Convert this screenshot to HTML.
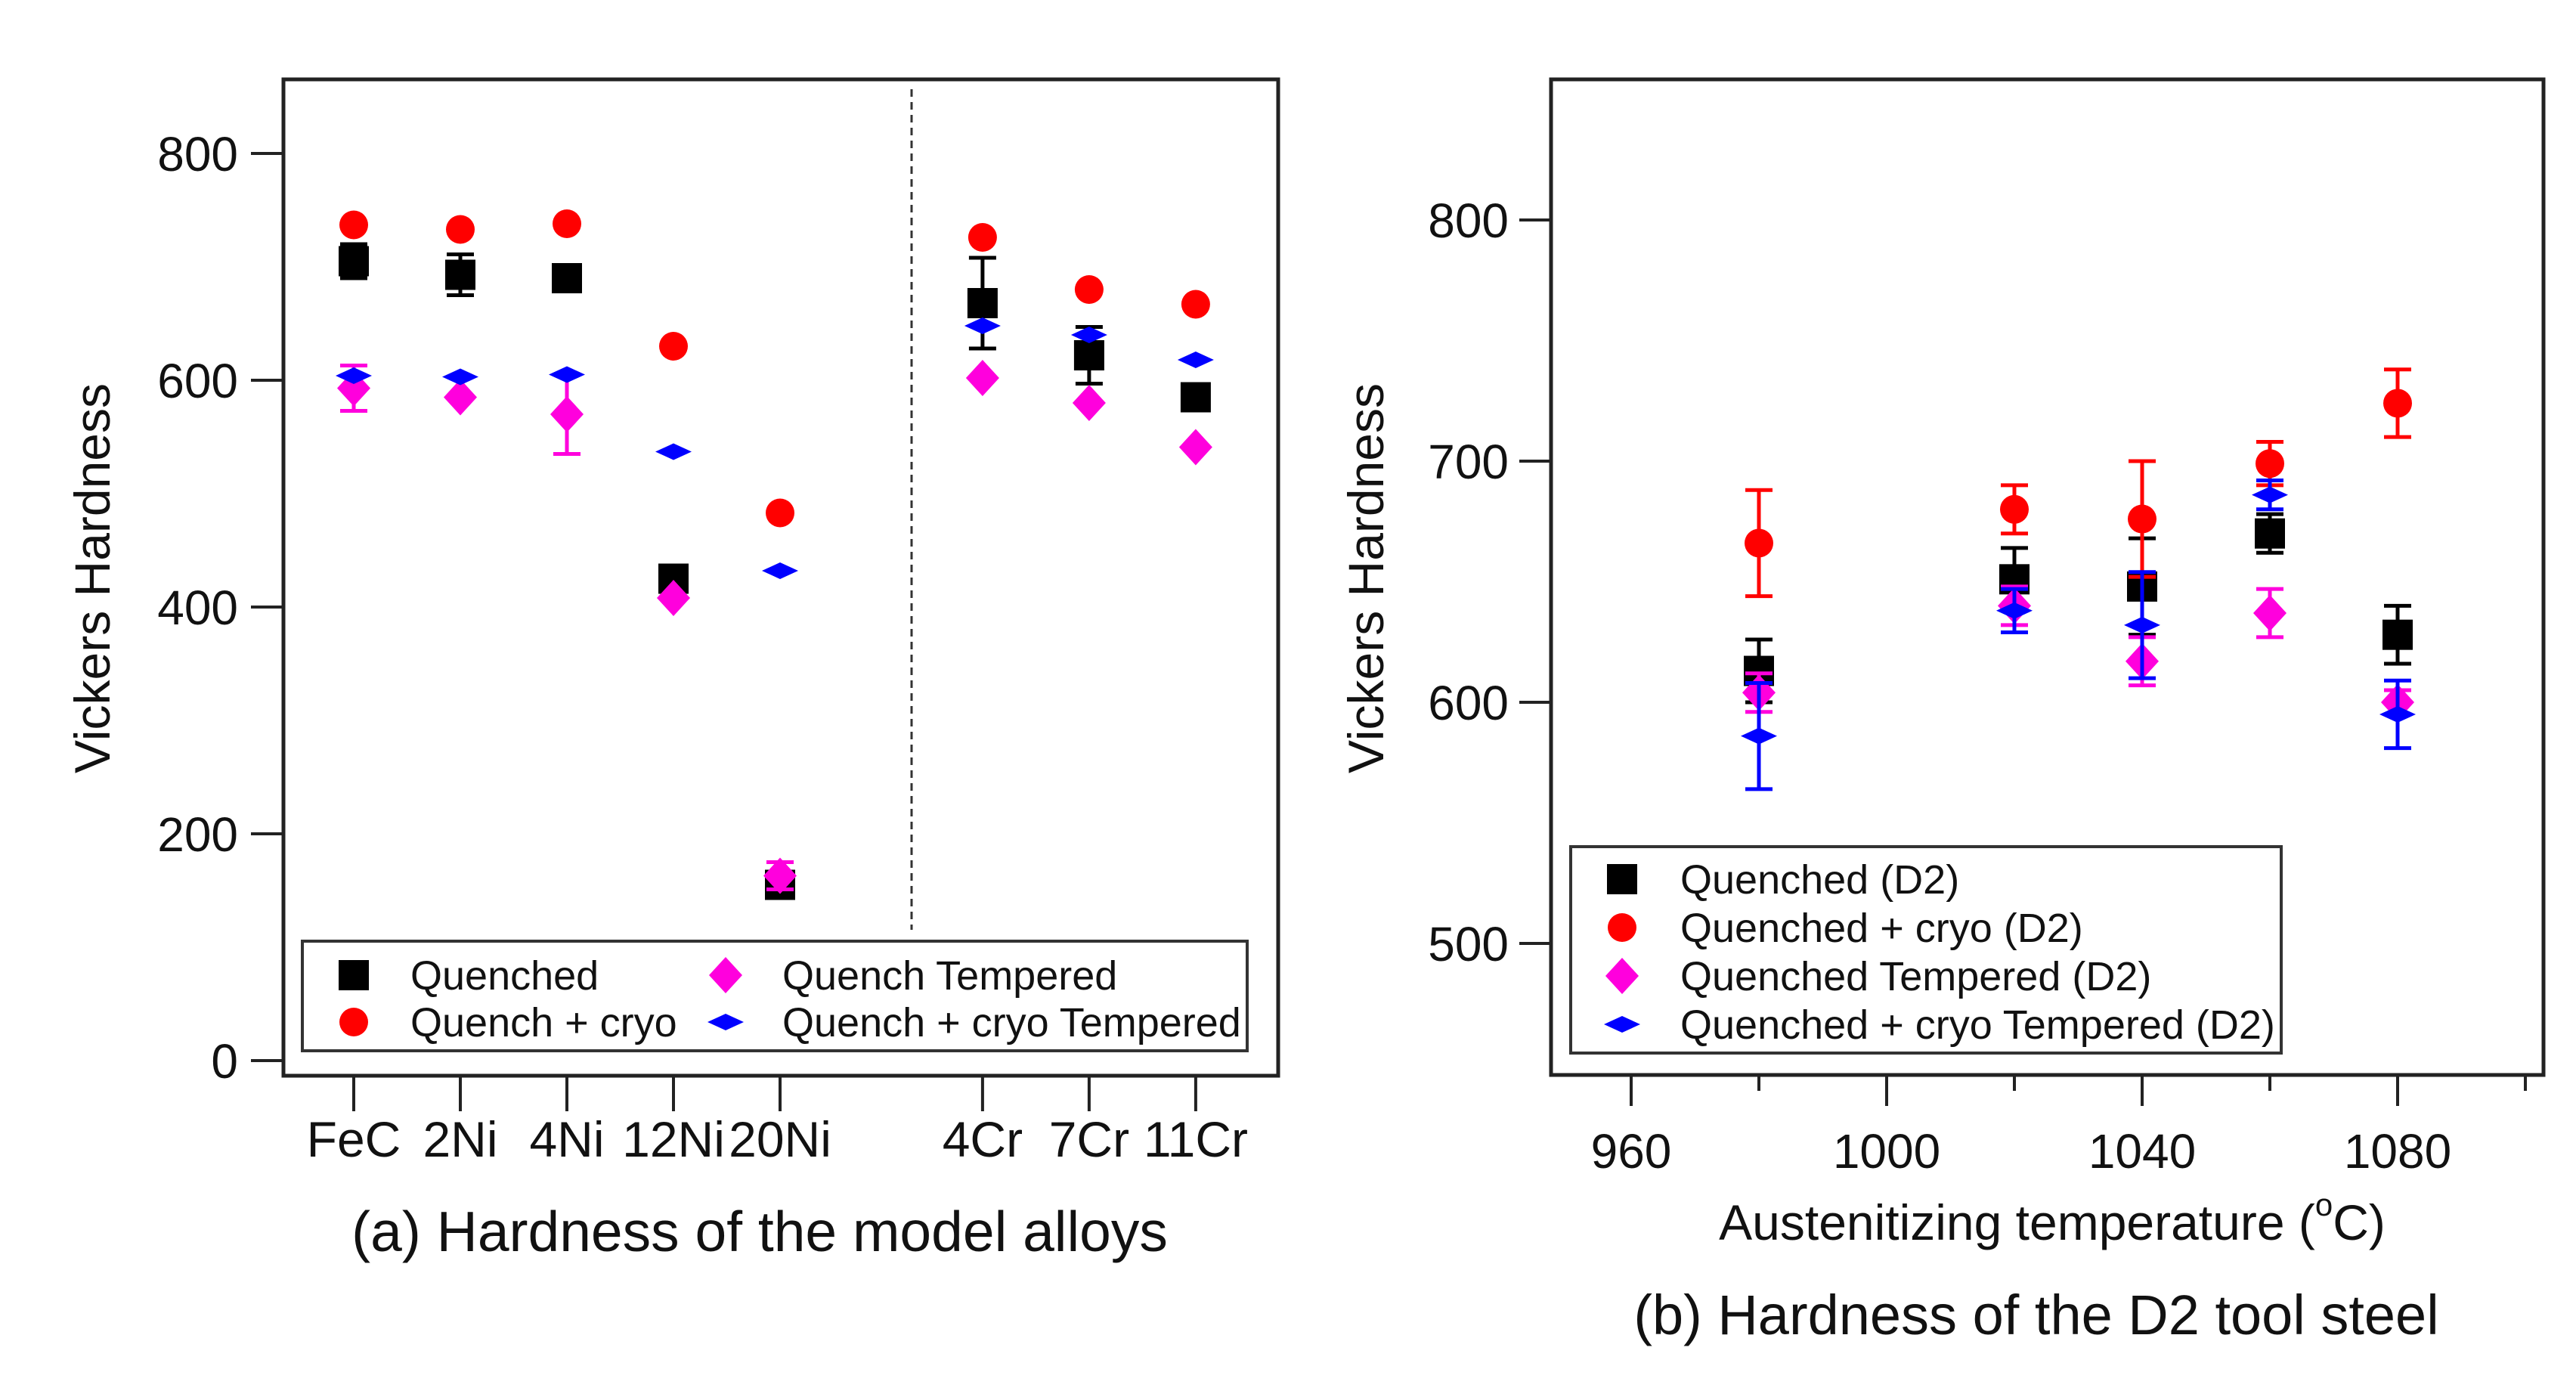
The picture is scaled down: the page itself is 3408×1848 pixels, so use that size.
<!DOCTYPE html>
<html><head><meta charset="utf-8"><style>
html,body{margin:0;padding:0;background:#fff;}
svg{display:block;font-family:"Liberation Sans",Arial,sans-serif;}
</style></head><body>
<svg id="fig" width="3408" height="1848" viewBox="0 0 3408 1848" xmlns="http://www.w3.org/2000/svg">
<g id="pa"></g>
<g id="pb"></g>
</svg>
<script>
// ---- Panel (a) data ----
const catsA = ["FeC","2Ni","4Ni","12Ni","20Ni","4Cr","7Cr","11Cr"];
const catPosA = [1,2,3,4,5,6.9,7.9,8.9];
const qA = [705,693,690,425,155,668,622,585];
const qErrA = [15,18,0,0,0,40,25,0];
const cA = [737,733,738,630,483,726,680,667];
const cErrA = [0,0,0,0,0,0,0,0];
const qtA = [593,585,570,408,163,602,580,541];
const qtErrA = [20,0,35,0,12,0,0,0];
const qctA = [604,603,605,537,432,648,640,618];
const qctErrA = [0,0,0,0,0,0,0,0];
const yTicksA = [0,200,400,600,800];
// ---- Panel (b) data ----
const tempsB = [980,1020,1040,1060,1080];
const xTicksB = [960,1000,1040,1080];
const xMinorB = [980,1020,1060,1100];
const qB = [613,651,648,670,628];
const qErrB = [13,13,20,8,12];
const cB = [666,680,676,699,724];
const cErrB = [22,10,24,9,14];
const qtB = [604,640,617,637,600];
const qtErrB = [8,8,10,10,5];
const qctB = [586,638,632,686,595];
const qctErrB = [22,9,22,6,14];
const yTicksB = [500,600,700,800];

const NS="http://www.w3.org/2000/svg";
function mk(parent,tag,attrs,text){const e=document.createElementNS(NS,tag);for(const k in attrs)e.setAttribute(k,attrs[k]);if(text!==undefined)e.textContent=text;parent.appendChild(e);return e;}

// axis functions
const xA = v => 468 + (v-1)*141;
const yA = v => 1403 - v*1.5;
const xB = v => 2158 + (v-960)*8.45;
const yB = v => 1248 - (v-500)*3.19;

function marker(g,type,x,y,name){
  let e;
  if(type==='sq'){e=mk(g,'rect',{x:x-20,y:y-20,width:40,height:40,fill:'#000'});}
  else if(type==='ci'){e=mk(g,'circle',{cx:x,cy:y,r:19,fill:'#ff0000'});}
  else if(type==='di'){e=mk(g,'polygon',{points:`${x},${y-24} ${x+22},${y} ${x},${y+24} ${x-22},${y}`,fill:'#ff00dd'});}
  else {e=mk(g,'polygon',{points:`${x},${y-11} ${x+24},${y} ${x},${y+11} ${x-24},${y}`,fill:'#0000ff'});}
  
  
  return e;
}
function errbar(g,x,y1,y2,color){
  const eg=mk(g,'g',{stroke:color,'stroke-width':5});
  
  
  mk(eg,'line',{x1:x,y1:y1,x2:x,y2:y2});
  mk(eg,'line',{x1:x-18,y1:y1,x2:x+18,y2:y1});
  mk(eg,'line',{x1:x-18,y1:y2,x2:x+18,y2:y2});
}

// ---------- Panel A ----------
(function(){
  const g=document.getElementById('pa');
  const frame=mk(g,'rect',{x:375,y:105,width:1316,height:1318,fill:'none',stroke:'#222','stroke-width':5});
  
  
  const dl=mk(g,'line',{x1:1206,y1:118,x2:1206,y2:1230,stroke:'#333','stroke-width':3,'stroke-dasharray':'10,7'});
  
  
  yTicksA.forEach(v=>{
    const t=mk(g,'line',{x1:332,y1:yA(v),x2:375,y2:yA(v),stroke:'#222','stroke-width':4});
    
    
    const l=mk(g,'text',{x:315,y:yA(v)+23,'font-size':64,'text-anchor':'end',fill:'#111'},String(v));
    
    
  });
  catsA.forEach((c,i)=>{
    const x=xA(catPosA[i]);
    const t=mk(g,'line',{x1:x,y1:1423,x2:x,y2:1470,stroke:'#222','stroke-width':4});
    
    
    const l=mk(g,'text',{x:x,y:1530,'font-size':66,'text-anchor':'middle',fill:'#111'},c);
    
    
  });
  const yt=mk(g,'text',{x:0,y:0,'font-size':66,'text-anchor':'middle',fill:'#111',transform:'translate(145,765) rotate(-90)'},'Vickers Hardness');
  
  
  const cap=mk(g,'text',{x:1005,y:1655,'font-size':75,'text-anchor':'middle',fill:'#111'},'(a) Hardness of the model alloys');
  
  
  const series=[[qA,qErrA,'sq','#000'],[cA,cErrA,'ci','#ff0000'],[qtA,qtErrA,'di','#ff00dd'],[qctA,qctErrA,'bd','#0000ff']];
  series.forEach(s=>{
    s[0].forEach((v,i)=>{
      const x=xA(catPosA[i]);
      if(s[1][i]>0) errbar(g,x,yA(v+s[1][i]),yA(v-s[1][i]),s[3]);
      marker(g,s[2],x,yA(v),'point-a');
    });
  });
  const lg=mk(g,'g',{});
  
  
  mk(lg,'rect',{x:400,y:1245,width:1250,height:145,fill:'#fff',stroke:'#333','stroke-width':4});
  const ents=[['sq','Quenched',468,1290],['ci','Quench + cryo',468,1352],['di','Quench Tempered',960,1290],['bd','Quench + cryo Tempered',960,1352]];
  ents.forEach(e=>{
    marker(lg,e[0],e[2],e[3],'legend-marker');
    const t=mk(lg,'text',{x:e[2]+75,y:e[3]+19,'font-size':54,fill:'#111'},e[1]);
    
    
  });
})();

// ---------- Panel B ----------
(function(){
  const g=document.getElementById('pb');
  const frame=mk(g,'rect',{x:2052,y:105,width:1313,height:1317,fill:'none',stroke:'#222','stroke-width':5});
  
  
  yTicksB.forEach(v=>{
    const t=mk(g,'line',{x1:2010,y1:yB(v),x2:2052,y2:yB(v),stroke:'#222','stroke-width':4});
    
    
    const l=mk(g,'text',{x:1996,y:yB(v)+23,'font-size':64,'text-anchor':'end',fill:'#111'},String(v));
    
    
  });
  xTicksB.forEach(v=>{
    const x=xB(v);
    const t=mk(g,'line',{x1:x,y1:1422,x2:x,y2:1463,stroke:'#222','stroke-width':4});
    
    
    const l=mk(g,'text',{x:x,y:1545,'font-size':64,'text-anchor':'middle',fill:'#111'},String(v));
    
    
  });
  xMinorB.forEach(v=>{
    const t=mk(g,'line',{x1:xB(v),y1:1422,x2:xB(v),y2:1443,stroke:'#222','stroke-width':4});
    
    
  });
  const yt=mk(g,'text',{x:0,y:0,'font-size':66,'text-anchor':'middle',fill:'#111',transform:'translate(1830,765) rotate(-90)'},'Vickers Hardness');
  
  
  const xt=mk(g,'text',{x:2715,y:1640,'font-size':66,'text-anchor':'middle',fill:'#111'});
  
  
  xt.innerHTML='Austenitizing temperature (<tspan dy="-32" font-size="42">o</tspan><tspan dy="32">C)</tspan>';
  const cap=mk(g,'text',{x:2694,y:1765,'font-size':74,'text-anchor':'middle',fill:'#111'},'(b) Hardness of the D2 tool steel');
  
  
  const series=[[qB,qErrB,'sq','#000'],[cB,cErrB,'ci','#ff0000'],[qtB,qtErrB,'di','#ff00dd'],[qctB,qctErrB,'bd','#0000ff']];
  series.forEach(s=>{
    s[0].forEach((v,i)=>{
      const x=xB(tempsB[i]);
      if(s[1][i]>0) errbar(g,x,yB(v+s[1][i]),yB(v-s[1][i]),s[3]);
      marker(g,s[2],x,yB(v),'point-b');
    });
  });
  const lg=mk(g,'g',{});
  
  
  mk(lg,'rect',{x:2078,y:1120,width:940,height:273,fill:'#fff',stroke:'#333','stroke-width':4});
  const ents=[['sq','Quenched (D2)',1163],['ci','Quenched + cryo (D2)',1227],['di','Quenched Tempered (D2)',1291],['bd','Quenched + cryo Tempered (D2)',1355]];
  ents.forEach(e=>{
    marker(lg,e[0],2146,e[2],'legend-marker');
    const t=mk(lg,'text',{x:2223,y:e[2]+19,'font-size':54,fill:'#111'},e[1]);
    
    
  });
})();
</script>
</body></html>
